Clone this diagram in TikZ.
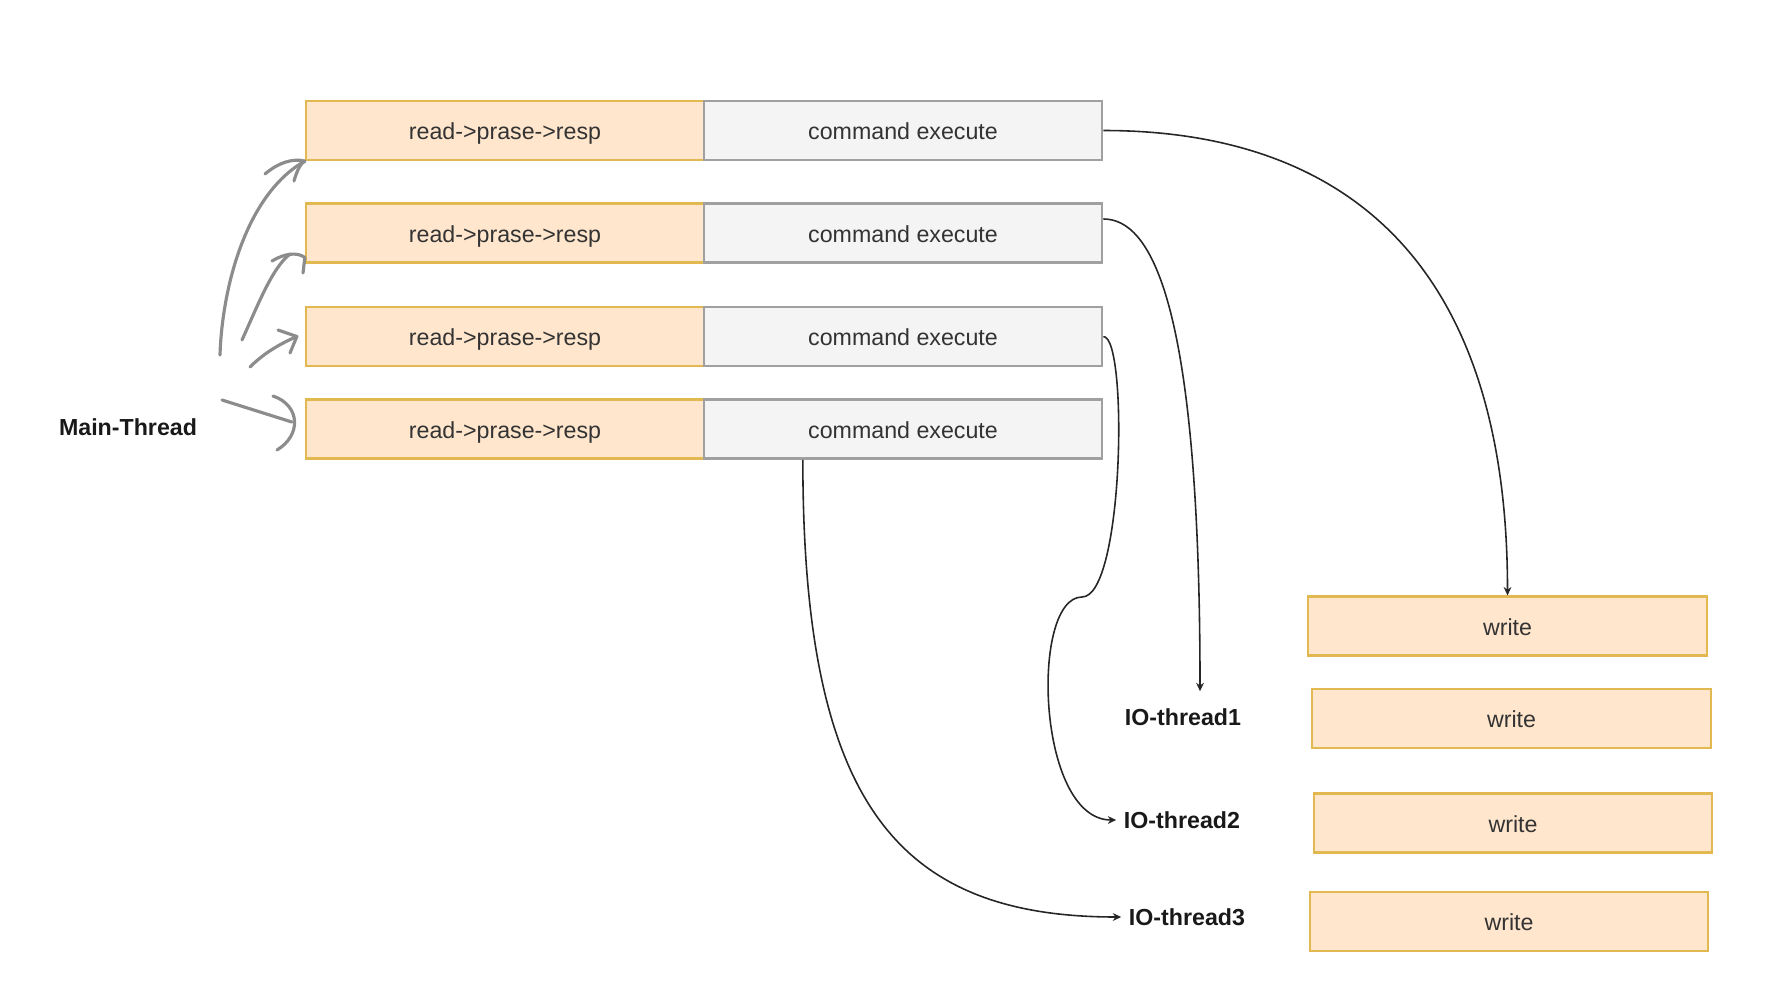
\documentclass[tikz,border=0pt]{standalone}
\usepackage{fontspec}
\setmainfont{Liberation Sans}
\usepackage{tikz}
\usetikzlibrary{arrows.meta, calc}
\definecolor{orangefill}{HTML}{FFE6CC}
\definecolor{orangeline}{HTML}{E2B850}
\definecolor{grayfill}{HTML}{F4F4F4}
\definecolor{grayline}{HTML}{A0A0A0}

\begin{document}
\begin{tikzpicture}[x=.01cm, y=-.01cm]
          \tikzstyle{obox}=[draw=orangeline, fill=orangefill, line width=.6pt, minimum width=3.98cm, minimum height=.59cm, inner sep=0pt, text height=.72em, text depth=.2em, text=black!80, font=\fontsize{6.6}{8}\selectfont]
          \tikzstyle{gbox}=[obox, draw=grayline, fill=grayfill, line width=.7pt]
          \tikzstyle{lbl}=[inner sep=2pt, text=black!90, font=\fontsize{6.6}{8}\selectfont\bfseries]
          \tikzstyle{flow}=[draw=black!85, line width=.45pt, -{Stealth[length=2.4pt,width=2.2pt]}]
          \tikzstyle{hand}=[draw=black!45, line width=.9pt, line cap=round, line join=round]
          \useasboundingbox (0,0) rectangle (1767,1000);
          \foreach \i/\y in {1/130.5,2/233,3/336.5,4/429}{
            \node[obox] (rpr\i) at (505,\y) {read->prase->resp};
            \node[gbox] (cmd\i) at (903,\y) {command execute};
            }
          \node[obox] (wr1) at (1507.5,626) {write};
          \node[obox] (wr2) at (1511.5,718.5) {write};
          \node[obox] (wr3) at (1513,823) {write};
          \node[obox] (wr4) at (1509,921.5) {write};
          \node[lbl] (main) at (128,427) {Main-Thread};
          \node[lbl] (io1) at (1183,717) {IO-thread1};
          \node[lbl] (io2) at (1182,820) {IO-thread2};
          \node[lbl] (io3) at (1187,917) {IO-thread3};
          % sketched arrows of the main thread
          \draw[hand] (220,355) .. controls (222,290) and (245,195) .. (rpr1.south west);
          \draw[hand] (265,174) .. controls (278,163) and (292,158) .. (rpr1.south west);
          \draw[hand] (294,181) .. controls (297,170) and (301,163) .. (rpr1.south west);
          \draw[hand] (242,340) .. controls (258,305) and (272,268) .. (290,254);
          \draw[hand] (272,261) .. controls (285,253) and (298,252) .. ([yshift=.06cm]rpr2.south west);
          \draw[hand] (303,273) -- ([yshift=.06cm]rpr2.south west);
          \draw[hand] (250,367) .. controls (265,352) and (282,343) .. ([xshift=-.08cm]rpr3.west);
          \draw[hand] (278,330) -- ([xshift=-.08cm]rpr3.west) -- (290,353);
          \draw[hand] (222,400) -- ([xshift=-.13cm,yshift=.07cm]rpr4.west);
          \draw[hand] (273,396) .. controls (300,405) and (302,435) .. (277,450);
          % hand over to writers
          \draw[flow] (cmd1.east) .. controls +(228,0) and +(0,-347) .. (wr1.north);
          \draw[flow] (cmd2.4) .. controls +(47,0) and +(0,-392) .. ([xshift=.17cm,yshift=.095cm]io1.north);
          \draw[flow] (cmd3.east) .. controls +(25,0) and +(42,0) .. (1082,597) .. controls +(-52,0) and +(-80,0) .. (io2.west);
          \draw[flow] ($(cmd4.south west)!.25!(cmd4.south east)$) .. controls +(0,342) and +(-225,0) .. (io3.west);
        \end{tikzpicture}
\end{document}
